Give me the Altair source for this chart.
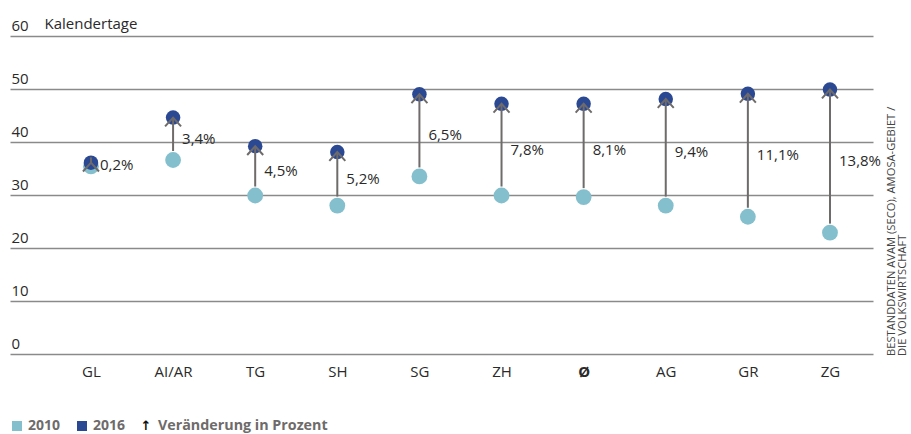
import altair as alt
import pandas as pd

# ---- data ----
cantons = ["GL", "AI/AR", "TG", "SH", "SG", "ZH", "Ø", "AG", "GR", "ZG"]
days_2010 = [35.4, 36.6, 29.9, 28.0, 33.5, 29.9, 29.6, 28.0, 25.9, 22.9]
days_2016 = [36.1, 44.6, 39.2, 38.1, 49.0, 47.2, 47.2, 48.1, 49.1, 49.9]
change_labels = ["0,2%", "3,4%", "4,5%", "5,2%", "6,5%", "7,8%", "8,1%", "9,4%", "11,1%", "13,8%"]
y_ticks = [0, 10, 20, 30, 40, 50, 60]
legend_labels = ["2010", "2016", "Veränderung in Prozent"]
source_lines = ["BESTANDDATEN AVAM (SECO), AMOSA-GEBIET /", "DIE VOLKSWIRTSCHAFT"]

LIGHT = "#84bfcd"
DARK = "#2b4893"
GRAY = "#6e6b6a"
TEXT = "#2a2a2a"
FONT = "Open Sans"

df = pd.DataFrame({"Kanton": cantons, "v2010": days_2010, "v2016": days_2016, "label": change_labels})

x_enc = alt.X(
    "Kanton:N",
    sort=cantons,
    scale=alt.Scale(type="point", padding=0.755, align=0.653),
    axis=alt.Axis(
        title=None, domain=False, ticks=False, grid=False, labelAngle=0,
        labelPadding=10, labelFontSize=15, labelFont=FONT, labelColor=TEXT,
        labelFontWeight=alt.expr("datum.value === 'Ø' ? 'bold' : 'normal'"),
    ),
)
y_scale = alt.Scale(domain=[0, 60], nice=False, zero=True)
y_axis = alt.Axis(
    title="Kalendertage", titleAngle=0, titleAlign="left", titleBaseline="alphabetic",
    titleX=34, titleY=-8, titleFontSize=15, titleFont=FONT, titleFontWeight="normal", titleColor=TEXT,
    values=y_ticks, domain=False, ticks=False, tickSize=0, grid=True,
    gridColor="#8a8a8a", gridWidth=1.3,
    labelAlign="left", labelBaseline="alphabetic", labelPadding=-1, labelOffset=-6,
    labelFontSize=15, labelFont=FONT, labelColor=TEXT, labelOverlap=False, labelFlush=False,
)

base = alt.Chart(df)

light = base.mark_circle(size=250, color=LIGHT, opacity=1).encode(
    x=x_enc, y=alt.Y("v2010:Q", scale=y_scale, axis=y_axis))
dark = base.mark_circle(size=210, color=DARK, opacity=1).encode(
    x=x_enc, y=alt.Y("v2016:Q", scale=y_scale, axis=y_axis))
stem = base.mark_rule(color=GRAY, strokeWidth=2, yOffset=-9).encode(
    x=x_enc, y=alt.Y("v2010:Q", scale=y_scale, axis=y_axis), y2="v2016:Q")
head = base.mark_point(shape="M-1,1.1L0,0L1,1.1", size=256, filled=False, stroke=GRAY,
                       strokeWidth=2, opacity=1).encode(
    x=x_enc, y=alt.Y("v2016:Q", scale=y_scale, axis=y_axis))
labels = base.transform_calculate(mid="(datum.v2010 + datum.v2016) / 2").mark_text(
    align="left", baseline="middle", dx=9, fontSize=15, font=FONT, color=TEXT).encode(
    x=x_enc, y=alt.Y("mid:Q", scale=y_scale, axis=y_axis), text="label:N")

one = alt.Data(values=[{"a": 0}])

leg_sq1 = alt.Chart(one).mark_square(size=100, color=LIGHT, opacity=1).encode(
    x=alt.value(7), y=alt.value(390))
leg_sq2 = alt.Chart(one).mark_square(size=100, color=DARK, opacity=1).encode(
    x=alt.value(72), y=alt.value(390))
leg_t1 = alt.Chart(one).mark_text(align="left", baseline="middle", fontSize=14, font=FONT,
                                  fontWeight="bold", color=GRAY).encode(
    x=alt.value(18), y=alt.value(390), text=alt.value(legend_labels[0]))
leg_t2 = alt.Chart(one).mark_text(align="left", baseline="middle", fontSize=14, font=FONT,
                                  fontWeight="bold", color=GRAY).encode(
    x=alt.value(83), y=alt.value(390), text=alt.value(legend_labels[1]))
leg_arrow = alt.Chart(one).mark_text(align="center", baseline="middle", fontSize=13,
                                     font="DejaVu Sans", fontWeight="bold", color="#111111").encode(
    x=alt.value(136), y=alt.value(390), text=alt.value("↑"))
leg_t3 = alt.Chart(one).mark_text(align="left", baseline="middle", fontSize=14.3, font=FONT,
                                  fontWeight="bold", color=GRAY).encode(
    x=alt.value(148), y=alt.value(390), text=alt.value(legend_labels[2]))

src1 = alt.Chart(one).mark_text(angle=270, align="left", baseline="middle", fontSize=11.2,
                                font=FONT, color="#444444").encode(
    x=alt.value(882), y=alt.value(320), text=alt.value(source_lines[0]))
src2 = alt.Chart(one).mark_text(angle=270, align="left", baseline="middle", fontSize=11.2,
                                font=FONT, color="#444444").encode(
    x=alt.value(893), y=alt.value(320), text=alt.value(source_lines[1]))

chart = alt.layer(
    light, dark, stem, head, labels,
    leg_sq1, leg_sq2, leg_t1, leg_t2, leg_arrow, leg_t3, src1, src2,
).properties(
    width=863, height=318,
    padding={"left": 10, "top": 36, "right": 38, "bottom": 80},
    autosize=alt.AutoSizeParams(type="none"),
    background="white",
).configure_view(stroke=None)

chart.save("out.html", embed_options={"renderer": "svg", "actions": False})
